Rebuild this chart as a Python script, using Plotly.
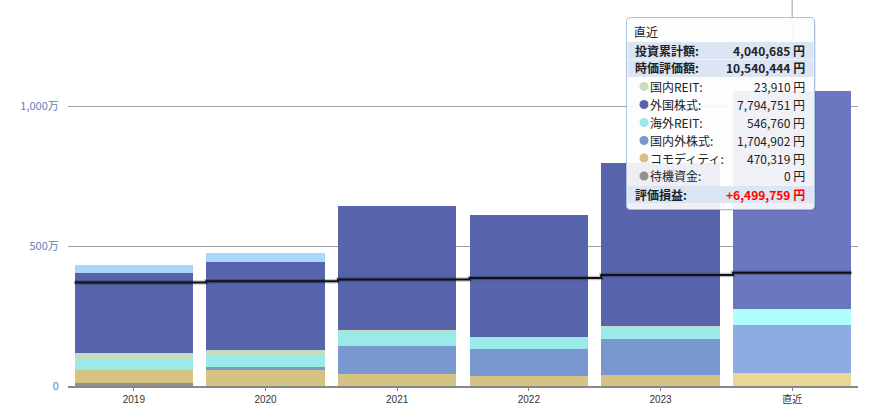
import plotly.graph_objects as go

# ---------------- data ----------------
categories = ["2019", "2020", "2021", "2022", "2023", "直近"]

series_names = ["待機資金", "コモディティ", "国内外株式", "海外REIT", "国内REIT", "外国株式", "国内株式"]
taiki = [110000, 0, 0, 0, 0, 0]
commodity = [450000, 570000, 440000, 370000, 400000, 470319]
naigai_kabu = [0, 107000, 990000, 955000, 1270000, 1704902]
kaigai_reit = [390000, 418000, 536000, 393000, 465000, 546760]
kokunai_reit = [215000, 190000, 20000, 20000, 20000, 23910]
gaikoku_kabu = [2870000, 3150000, 4460000, 4360000, 5820000, 7794751]
kokunai_kabu = [275000, 310000, None, None, None, None]

invest_cum = [3700000, 3740000, 3800000, 3860000, 3960000, 4040685]
latest_market_value = 10540444

ytick_vals = [0, 5000000, 10000000]
ytick_text = ["0", "500万", "1,000万"]

tooltip_order = ["国内REIT", "外国株式", "海外REIT", "国内外株式", "コモディティ", "待機資金"]

# ---------------- styles ----------------
series_values = [taiki, commodity, naigai_kabu, kaigai_reit, kokunai_reit, gaikoku_kabu, kokunai_kabu]
series_colors = [(144, 144, 144), (213, 195, 131), (121, 152, 208), (154, 234, 233),
                 (197, 220, 192), (87, 100, 171), (170, 213, 252)]
hover_index = len(categories) - 1

W, H = 877, 404
PL, PR, PT, PB = 68, 858, 0, 386
PX_PER_UNIT = 5000000 / 140.0
y_top = (PB - PT) * PX_PER_UNIT


def rgb(c, add=0):
    return "rgb(%d,%d,%d)" % tuple(min(255, v + add) for v in c)


def px(x):
    return (x - PL) / (PR - PL)


def py(y):
    return (PB - y) / (PB - PT)


fig = go.Figure()
xs = list(range(len(categories)))

for name, vals, col in zip(series_names, series_values, series_colors):
    colors = [rgb(col, 20) if i == hover_index else rgb(col) for i in xs]
    fig.add_trace(go.Bar(x=xs, y=vals, name=name, marker=dict(color=colors, line=dict(width=0)),
                         width=0.9))

# investment cumulative step line
bw = 0.45
lx = [i - bw for i in xs] + [xs[-1] + bw]
ly = invest_cum + [invest_cum[-1]]
fig.add_trace(go.Scatter(x=lx, y=ly, mode="lines", line=dict(color="rgba(0,0,0,0.22)", width=4.5, shape="hv")))
fig.add_trace(go.Scatter(x=lx, y=ly, mode="lines", line=dict(color="#111", width=2, shape="hv")))

shapes = []
annotations = []

# crosshair
shapes.append(dict(type="line", xref="x", yref="paper", x0=xs[hover_index], x1=xs[hover_index],
                   y0=0, y1=1, line=dict(color="#999", width=1), layer="below"))

# tooltip box
bx0, by0, bx1, by1, r = 626.5, 17.5, 814.5, 209.5, 4


def rounded(x0, y0, x1, y1, r):
    pts = [
        ("M", x0 + r, y0), ("L", x1 - r, y0), ("Q", x1, y0, x1, y0 + r),
        ("L", x1, y1 - r), ("Q", x1, y1, x1 - r, y1), ("L", x0 + r, y1),
        ("Q", x0, y1, x0, y1 - r), ("L", x0, y0 + r), ("Q", x0, y0, x0 + r, y0),
    ]
    out = []
    for p in pts:
        if p[0] == "Q":
            out.append("Q %f,%f %f,%f" % (px(p[1]), py(p[2]), px(p[3]), py(p[4])))
        else:
            out.append("%s %f,%f" % (p[0], px(p[1]), py(p[2])))
    return " ".join(out) + " Z"


shapes.append(dict(type="path", xref="paper", yref="paper", path=rounded(bx0 + 1.5, by0 + 1.5, bx1 + 1.5, by1 + 1.5, r),
                   fillcolor="rgba(0,0,0,0.08)", line=dict(width=0), layer="above"))
shapes.append(dict(type="path", xref="paper", yref="paper", path=rounded(bx0, by0, bx1, by1, r),
                   fillcolor="rgba(255,255,255,0.9)", line=dict(color="#aac0e0", width=1), layer="above"))

band = "rgba(218,228,242,0.95)"
for (y0, y1) in [(42, 59), (59.5, 77), (186, 203)]:
    shapes.append(dict(type="rect", xref="paper", yref="paper", x0=px(627.5), x1=px(813.5),
                       y0=py(y1), y1=py(y0), fillcolor=band, line=dict(width=0), layer="above"))

FONT = "Noto Sans CJK JP, sans-serif"
TICKFONT = "Liberation Sans, Noto Sans CJK JP, sans-serif"


def text(x, y, s, anchor="left", size=12, color="#222", bold=False):
    if bold:
        s = "<b>%s</b>" % s
    annotations.append(dict(xref="paper", yref="paper", x=px(x), y=py(y), text=s, showarrow=False,
                            xanchor=anchor, yanchor="middle", borderpad=0,
                            font=dict(family=FONT, size=size, color=color)))


total = latest_market_value
cum = invest_cum[hover_index]
gain = total - cum

text(633, 32, categories[hover_index], size=12)
text(634, 50.5, "投資累計額:", bold=True)
text(806, 50.5, "{:,} 円".format(cum), anchor="right", bold=True)
text(634, 68, "時価評価額:", bold=True)
text(806, 68, "{:,} 円".format(total), anchor="right", bold=True)

row_y = [86.5, 104.5, 122.5, 140.5, 158, 176]
for yy, nm in zip(row_y, tooltip_order):
    idx = series_names.index(nm)
    v = series_values[idx][hover_index] or 0
    shapes.append(dict(type="circle", xref="paper", yref="paper", x0=px(639.5), x1=px(648.5),
                       y0=py(yy + 4.5), y1=py(yy - 4.5), fillcolor=rgb(series_colors[idx]),
                       line=dict(width=0), layer="above"))
    text(649, yy, nm + ":")
    text(806, yy, "{:,} 円".format(v), anchor="right")

text(634, 194.5, "評価損益:", bold=True)
text(806, 194.5, "{:+,} 円".format(gain), anchor="right", bold=True, color="#ff0000")

fig.update_layout(
    width=W, height=H,
    margin=dict(l=PL, r=W - PR, t=PT, b=H - PB, autoexpand=False),
    barmode="stack",
    bargap=0.1,
    showlegend=False,
    hovermode=False,
    plot_bgcolor="white",
    paper_bgcolor="white",
    shapes=shapes,
    annotations=annotations,
    font=dict(family=FONT),
)
fig.update_xaxes(
    range=[-0.5, len(categories) - 0.5],
    tickvals=xs, ticktext=categories,
    ticks="outside", ticklen=3, tickcolor="#888",
    automargin=False,
    showline=True, linecolor="#888", linewidth=2,
    showgrid=False, zeroline=False,
    tickfont=dict(size=10, color="#333", family=TICKFONT),
)
fig.update_yaxes(
    range=[0, y_top],
    tickvals=ytick_vals, ticktext=ytick_text,
    ticks="outside", ticklen=6, tickcolor="rgba(0,0,0,0)",
    automargin=False,
    showgrid=True, gridcolor="#a0a0a0", gridwidth=1,
    zeroline=False, showline=False,
    tickfont=dict(size=11, color="#6a7cb4", family=FONT),
)

fig.write_html("out.html")
